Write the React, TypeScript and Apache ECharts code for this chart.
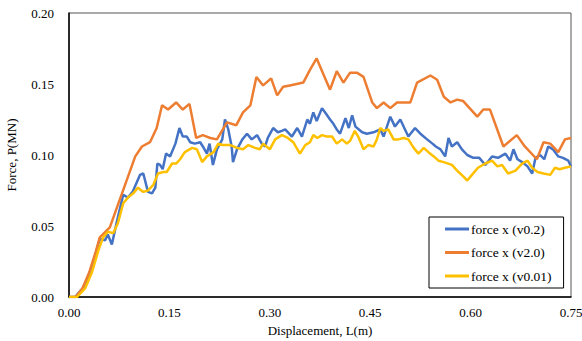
import React, { useEffect, useRef } from "react";
import * as echarts from "echarts";

const xTicks = [0, 0.15, 0.3, 0.45, 0.6, 0.75];
const yTicks = [0, 0.05, 0.1, 0.15, 0.2];
const seriesNames = ["force x (v0.2)", "force x (v2.0)", "force x (v0.01)"];

const blueL = [0,0.009,0.024,0.036,0.046,0.054,0.058,0.064,0.072,0.081,0.088,0.095,0.106,0.111,0.118,0.124,0.129,0.132,0.136,0.14,0.145,0.151,0.159,0.165,0.17,0.176,0.181,0.188,0.196,0.2,0.206,0.21,0.215,0.221,0.229,0.233,0.238,0.243,0.245,0.251,0.259,0.266,0.273,0.281,0.288,0.293,0.297,0.305,0.312,0.318,0.323,0.333,0.341,0.348,0.356,0.36,0.365,0.37,0.378,0.384,0.39,0.395,0.4,0.405,0.413,0.418,0.423,0.428,0.438,0.445,0.455,0.465,0.47,0.48,0.487,0.495,0.502,0.507,0.517,0.525,0.535,0.543,0.548,0.555,0.562,0.567,0.572,0.58,0.587,0.595,0.604,0.613,0.622,0.632,0.641,0.652,0.659,0.664,0.67,0.677,0.685,0.692,0.697,0.704,0.71,0.716,0.723,0.731,0.738,0.746,0.75];
const blueF = [0,0,0.008,0.024,0.041,0.04,0.044,0.037,0.054,0.072,0.07,0.074,0.086,0.087,0.074,0.073,0.077,0.094,0.093,0.09,0.101,0.099,0.108,0.119,0.113,0.113,0.109,0.108,0.109,0.106,0.101,0.108,0.093,0.104,0.111,0.125,0.118,0.106,0.095,0.104,0.111,0.115,0.111,0.114,0.108,0.106,0.112,0.119,0.116,0.117,0.118,0.113,0.119,0.113,0.125,0.122,0.13,0.124,0.133,0.129,0.125,0.122,0.118,0.115,0.126,0.119,0.128,0.12,0.116,0.115,0.116,0.118,0.113,0.127,0.12,0.125,0.118,0.113,0.119,0.115,0.111,0.108,0.106,0.104,0.099,0.112,0.106,0.109,0.104,0.1,0.098,0.098,0.093,0.099,0.098,0.101,0.096,0.104,0.097,0.095,0.092,0.087,0.098,0.1,0.097,0.106,0.104,0.099,0.098,0.096,0.092];

const orangeL = [0,0.01,0.02,0.03,0.04,0.046,0.061,0.099,0.109,0.121,0.131,0.139,0.148,0.16,0.17,0.18,0.19,0.2,0.211,0.221,0.236,0.25,0.26,0.271,0.28,0.29,0.302,0.311,0.32,0.33,0.35,0.36,0.37,0.39,0.4,0.41,0.42,0.43,0.44,0.453,0.46,0.47,0.48,0.49,0.51,0.52,0.54,0.55,0.56,0.57,0.58,0.589,0.61,0.619,0.629,0.649,0.669,0.681,0.699,0.709,0.719,0.731,0.741,0.75];
const orangeF = [0,0,0.006,0.017,0.032,0.042,0.049,0.099,0.106,0.109,0.119,0.135,0.132,0.137,0.132,0.136,0.112,0.114,0.112,0.111,0.123,0.121,0.13,0.135,0.155,0.149,0.154,0.142,0.148,0.149,0.151,0.16,0.168,0.146,0.159,0.151,0.158,0.158,0.155,0.137,0.133,0.137,0.133,0.137,0.137,0.151,0.156,0.153,0.141,0.137,0.139,0.138,0.127,0.132,0.132,0.106,0.114,0.106,0.097,0.109,0.108,0.102,0.111,0.112];

const yellowL = [0,0.012,0.024,0.034,0.044,0.051,0.058,0.066,0.073,0.081,0.088,0.096,0.103,0.111,0.118,0.126,0.133,0.141,0.146,0.154,0.16,0.166,0.173,0.184,0.191,0.199,0.206,0.216,0.223,0.23,0.241,0.251,0.26,0.268,0.278,0.285,0.29,0.3,0.308,0.318,0.327,0.335,0.345,0.353,0.36,0.365,0.371,0.378,0.385,0.393,0.4,0.408,0.415,0.42,0.427,0.433,0.44,0.447,0.455,0.46,0.465,0.47,0.477,0.485,0.492,0.5,0.507,0.515,0.522,0.53,0.537,0.545,0.552,0.56,0.572,0.582,0.589,0.595,0.602,0.611,0.622,0.632,0.64,0.647,0.656,0.667,0.677,0.685,0.692,0.7,0.709,0.719,0.726,0.733,0.741,0.75];
const yellowF = [0,0,0.006,0.017,0.033,0.042,0.046,0.045,0.052,0.066,0.07,0.073,0.077,0.074,0.075,0.079,0.087,0.088,0.088,0.094,0.094,0.097,0.102,0.105,0.104,0.095,0.099,0.102,0.108,0.107,0.107,0.105,0.104,0.107,0.105,0.104,0.108,0.104,0.111,0.114,0.112,0.109,0.101,0.107,0.109,0.114,0.112,0.114,0.113,0.113,0.108,0.111,0.108,0.11,0.117,0.112,0.104,0.107,0.106,0.111,0.119,0.117,0.118,0.111,0.111,0.112,0.111,0.105,0.101,0.105,0.102,0.099,0.096,0.095,0.093,0.088,0.085,0.082,0.086,0.091,0.094,0.096,0.092,0.093,0.087,0.089,0.094,0.096,0.091,0.088,0.087,0.086,0.091,0.09,0.091,0.092];

const colors = ["#4472C4", "#ED7D31", "#FFC000"];
const font = "Liberation Serif";

function pairs(xs: number[], ys: number[]) {
  return xs.map((x, i) => [x, ys[i]]);
}

export default function App() {
  const ref = useRef<HTMLDivElement>(null);
  useEffect(() => {
    if (!ref.current) return;
    const chart = echarts.init(ref.current, null, { renderer: "svg" });
    const mk = (name: string, data: number[][], color: string) => ({
      name,
      type: "line",
      data,
      showSymbol: false,
      symbol: "none",
      lineStyle: { color, width: 2.5 },
      itemStyle: { color },
    });
    chart.setOption({
      animation: false,
      backgroundColor: "#fff",
      textStyle: { fontFamily: font },
      grid: {
        left: 69,
        right: 11,
        top: 13,
        bottom: 44,
        show: true,
        borderColor: "#555",
        borderWidth: 1,
        outerBoundsMode: "none",
        containLabel: false,
      },
      legend: {
        orient: "vertical",
        left: 429,
        top: 217,
        padding: [5, 12, 5, 16],
        itemGap: 9.5,
        itemWidth: 24,
        itemHeight: 3,
        icon: "rect",
        borderColor: "#000",
        borderWidth: 1,
        textStyle: { fontFamily: font, fontSize: 13.5, color: "#000", padding: [0, 0, 0, -3] },
        data: seriesNames,
      },
      xAxis: {
        type: "value",
        min: xTicks[0],
        max: xTicks[xTicks.length - 1],
        interval: 0.15,
        name: "Displacement, L(m)",
        nameLocation: "middle",
        nameGap: 25,
        nameTextStyle: { fontFamily: font, fontSize: 13, color: "#000" },
        axisLine: { show: true, lineStyle: { color: "#000", width: 1.5 } },
        axisTick: { show: false },
        splitLine: { show: false },
        axisLabel: {
          fontFamily: font,
          fontSize: 13,
          color: "#000",
          margin: 9,
          formatter: (v: number) => v.toFixed(2),
        },
      },
      yAxis: {
        type: "value",
        min: yTicks[0],
        max: yTicks[yTicks.length - 1],
        interval: 0.05,
        name: "Force, P(MN)",
        nameLocation: "middle",
        nameGap: 51,
        nameTextStyle: { fontFamily: font, fontSize: 13, color: "#000" },
        axisLine: { show: true, lineStyle: { color: "#000", width: 1.5 } },
        axisTick: { show: false },
        splitLine: { show: false },
        axisLabel: {
          fontFamily: font,
          fontSize: 13,
          color: "#000",
          margin: 15,
          formatter: (v: number) => v.toFixed(2),
        },
      },
      series: [
        mk(seriesNames[0], pairs(blueL, blueF), colors[0]),
        mk(seriesNames[1], pairs(orangeL, orangeF), colors[1]),
        mk(seriesNames[2], pairs(yellowL, yellowF), colors[2]),
      ],
    });
    return () => chart.dispose();
  }, []);
  return (
    <div
      ref={ref}
      style={{ position: "fixed", left: 0, top: 0, width: 582, height: 341 }}
    />
  );
}
